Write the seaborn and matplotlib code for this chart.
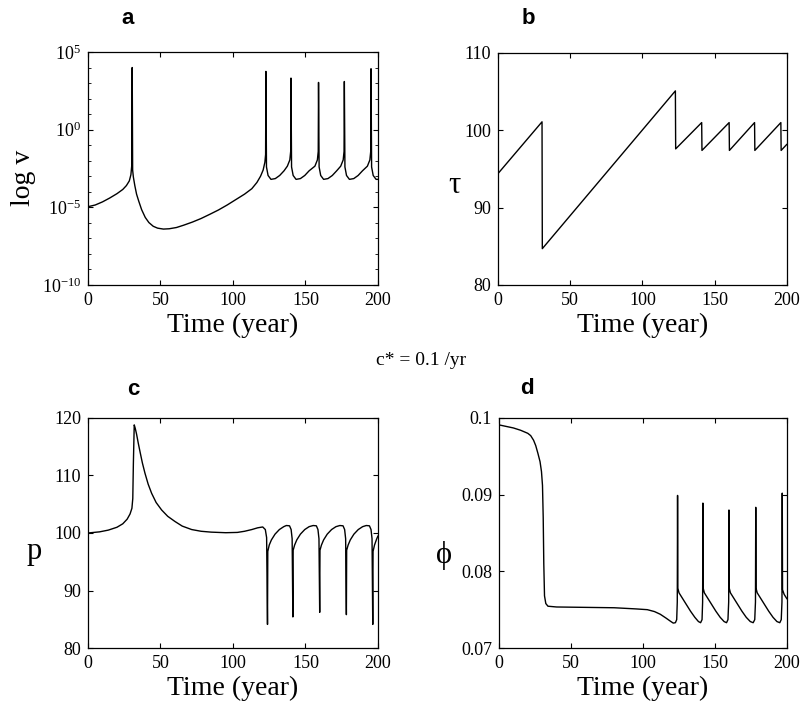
import numpy as np
import matplotlib
matplotlib.use("Agg")
import matplotlib.pyplot as plt
import seaborn as sns
from matplotlib.ticker import FixedLocator, NullFormatter

# panel a: log10 of slip rate v
t_a = [0, 5, 10, 15, 20, 24, 26.5, 28.5, 29.6, 30.2, 30.5, 30.8, 31.3, 32.3, 33.5, 35, 37,
       39.5, 42, 45, 48, 52, 56, 61, 66, 72, 78, 84, 90, 96, 102, 108, 113, 116.5, 119,
       120.8, 122.0, 122.5, 122.7,
       123.1, 124.2, 126.2, 129.2, 132.2, 135.2, 137.5, 139.2, 139.8, 140.0,
       140.4, 141.5, 143.5, 146.5, 149.5, 152.5, 156.5, 158.2, 158.8, 159.0,
       159.4, 160.5, 162.5, 165.5, 168.5, 171.5, 174.3, 176.0, 176.6, 176.8,
       177.2, 178.3, 180.3, 183.3, 186.3, 189.3, 192.7, 194.4, 195.0, 195.2,
       195.6, 196.7, 198.7, 200]
logv_a = [-4.96, -4.85, -4.65, -4.4, -4.12, -3.85, -3.6, -3.3, -2.9, -2.3, 4.0, -2.6, -3.05,
          -3.6, -4.15, -4.6, -5.15, -5.65, -5.98, -6.22, -6.34, -6.4, -6.38, -6.3, -6.15,
          -5.95, -5.72, -5.45, -5.17, -4.85, -4.5, -4.15, -3.8, -3.4, -3.0,
          -2.6, -2.1, -1.6, 3.75,
          -2.4, -2.95, -3.2, -3.15, -2.95, -2.65, -2.35, -1.95, -1.4, 3.32,
          -2.4, -2.95, -3.2, -3.15, -2.95, -2.65, -2.35, -1.95, -1.4, 3.04,
          -2.4, -2.95, -3.2, -3.15, -2.95, -2.65, -2.35, -1.95, -1.4, 3.1,
          -2.4, -2.95, -3.2, -3.15, -2.95, -2.65, -2.35, -1.95, -1.4, 3.92,
          -2.4, -2.95, -3.2, -3.2]

# panel b: tau
t_b = [0, 30.5, 30.7, 122.8, 123.0, 141.0, 141.2, 160.0, 160.2, 177.6, 177.8,
       195.8, 196.0, 200]
tau_b = [94.4, 101.1, 84.7, 105.1, 97.6, 101.0, 97.4, 101.0, 97.4, 101.0, 97.4,
         101.0, 97.4, 98.2]

# panel c: p
t_c = [0, 8, 14, 20, 24, 27, 29, 30.3, 30.9, 31.3, 31.9, 32.6, 33.5, 34.7, 36, 37.5,
       39.3, 41.5, 43.9, 47, 50.8, 55, 60, 65, 71.5, 78, 85, 95, 103, 108, 113, 117,
       120.5, 122.3, 123.2, 123.8,
       124.0, 125.0, 126.5, 129, 132, 135, 136.8, 139.0, 140.1, 140.8, 141.3,
       141.5, 142.5, 144, 146.5, 149.5, 152.5, 155.3, 157.5, 158.6, 159.3, 159.8,
       160.0, 161, 162.5, 165, 168, 171, 173.7, 175.9, 177.0, 177.7, 178.2,
       178.4, 179.4, 180.9, 183.4, 186.4, 189.4, 191.9, 194.1, 195.2, 195.9, 196.4,
       196.6, 197.6, 199, 200]
p_c = [100.0, 100.2, 100.5, 101.0, 101.6, 102.4, 103.3, 104.3, 106, 112, 118.8, 118.2,
       117.2, 115.6, 114.0, 112.2, 110.4, 108.5, 106.9, 105.3, 104.0, 102.9, 102.0,
       101.2, 100.6, 100.3, 100.15, 100.05, 100.1, 100.3, 100.6, 100.9,
       101.05, 100.6, 99.2, 84.1,
       96.8, 97.9, 98.8, 99.8, 100.6, 101.1, 101.3, 101.25, 100.6, 99.0, 85.4,
       97.0, 97.9, 98.8, 99.8, 100.6, 101.1, 101.3, 101.25, 100.6, 99.0, 86.2,
       97.0, 97.9, 98.8, 99.8, 100.6, 101.1, 101.3, 101.25, 100.6, 99.0, 85.8,
       97.0, 97.9, 98.8, 99.8, 100.6, 101.1, 101.3, 101.25, 100.6, 99.0, 84.1,
       96.8, 97.9, 98.9, 99.5]

# panel d: phi
t_d = [0, 5, 10, 15, 20, 22, 24, 25.5, 27, 28.5, 29.5, 30.2, 30.7, 31.1, 31.6, 32.5,
       34, 40, 60, 80, 95, 103, 108, 112, 116, 119, 121, 122.5, 123.4, 123.8, 124.0,
       124.2, 125, 127, 130, 133, 136, 138.5, 140, 141.0, 141.4, 141.6,
       141.8, 142.6, 144.6, 147.6, 150.6, 153.6, 156.3, 158.0, 159.0, 159.5, 159.7,
       159.9, 160.7, 162.7, 165.7, 168.7, 171.7, 174.5, 176.5, 177.6, 178.1, 178.3,
       178.5, 179.3, 181.3, 184.3, 187.3, 190.3, 193.0, 195.0, 196.0, 196.5, 196.7,
       196.9, 198, 200]
phi_d = [0.0991, 0.0989, 0.0987, 0.0984, 0.0980, 0.0977, 0.0971, 0.0964, 0.0954,
         0.0943, 0.0930, 0.0912, 0.0870, 0.0810, 0.0768, 0.0758, 0.07545, 0.07535,
         0.0753, 0.07525, 0.0751, 0.0750, 0.07475, 0.0744, 0.0739, 0.0735, 0.07325,
         0.0733, 0.0737, 0.0760, 0.0899,
         0.0778, 0.0772, 0.0766, 0.0757, 0.0748, 0.0740, 0.07345, 0.0733, 0.0737, 0.0760, 0.0889,
         0.0778, 0.0772, 0.0766, 0.0757, 0.0748, 0.0740, 0.07345, 0.0733, 0.0737, 0.0760, 0.0880,
         0.0778, 0.0772, 0.0766, 0.0757, 0.0748, 0.0740, 0.07345, 0.0733, 0.0737, 0.0760, 0.08835,
         0.0778, 0.0772, 0.0766, 0.0757, 0.0748, 0.0740, 0.07345, 0.0733, 0.0737, 0.0760, 0.0902,
         0.0776, 0.0770, 0.0764]

x_ticks = [0, 50, 100, 150, 200]

sns.set_style("ticks")
plt.rcParams["font.family"] = ["Liberation Serif", "DejaVu Serif"]
plt.rcParams["mathtext.fontset"] = "stix"
plt.rcParams["text.color"] = "black"
plt.rcParams["axes.labelcolor"] = "black"
plt.rcParams["xtick.color"] = "black"
plt.rcParams["ytick.color"] = "black"
plt.rcParams["xtick.direction"] = "in"
plt.rcParams["ytick.direction"] = "in"
plt.rcParams["xtick.top"] = True
plt.rcParams["ytick.right"] = True
plt.rcParams["xtick.major.size"] = 3.5
plt.rcParams["ytick.major.size"] = 3.5
plt.rcParams["ytick.minor.size"] = 2.5
plt.rcParams["axes.linewidth"] = 0.9
plt.rcParams["axes.edgecolor"] = "black"

fig = plt.figure(figsize=(8.02, 7.15), dpi=100)
ax_a = fig.add_axes([0.1097, 0.6014, 0.3616, 0.3259])
ax_b = fig.add_axes([0.6209, 0.6014, 0.3603, 0.3245])
ax_c = fig.add_axes([0.1097, 0.0937, 0.3616, 0.3217])
ax_d = fig.add_axes([0.6222, 0.0937, 0.3591, 0.3217])

line_kw = dict(color="black", linewidth=1.0, sort=False, estimator=None)
sns.lineplot(x=t_a, y=10 ** np.array(logv_a), ax=ax_a, **line_kw)
sns.lineplot(x=t_b, y=tau_b, ax=ax_b, **line_kw)
sns.lineplot(x=t_c, y=p_c, ax=ax_c, **line_kw)
sns.lineplot(x=t_d, y=phi_d, ax=ax_d, **line_kw)

ax_a.set_yscale("log")
ax_a.set_ylim(1e-10, 1e5)
ax_a.yaxis.set_major_locator(FixedLocator([1e-10, 1e-5, 1e0, 1e5]))
ax_a.yaxis.set_minor_locator(FixedLocator(10.0 ** np.arange(-10, 6)))
ax_a.yaxis.set_minor_formatter(NullFormatter())

ax_b.set_ylim(80, 110)
ax_b.set_yticks([80, 90, 100, 110])
ax_c.set_ylim(80, 120)
ax_c.set_yticks([80, 90, 100, 110, 120])
ax_d.set_ylim(0.07, 0.1)
ax_d.set_yticks([0.07, 0.08, 0.09, 0.1])
ax_d.set_yticklabels(["0.07", "0.08", "0.09", "0.1"])

for ax in [ax_a, ax_b, ax_c, ax_d]:
    ax.set_xlim(0, 200)
    ax.set_xticks(x_ticks)
    ax.tick_params(labelsize=13, pad=5, width=0.8)
    ax.set_xlabel("Time (year)", fontsize=20)
    ax.xaxis.set_label_coords(0.5, -0.12)

ax_a.set_ylabel("log v", fontsize=20)
ax_a.yaxis.set_label_coords(-0.18, 0.46)
ax_b.set_ylabel("τ", fontsize=22, rotation=0, ha="center", va="center")
ax_b.yaxis.set_label_coords(-0.15, 0.43)
ax_c.set_ylabel("p", fontsize=22, rotation=0, ha="center", va="center")
ax_c.yaxis.set_label_coords(-0.185, 0.42)
ax_d.set_ylabel("ϕ", fontsize=22, rotation=0, ha="center", va="center")
ax_d.yaxis.set_label_coords(-0.19, 0.40)

letter_kw = dict(fontsize=16, fontweight="bold", family=["Liberation Sans"], ha="center", va="center")
fig.text(128 / 802, 1 - 18 / 715, "a", **letter_kw)
fig.text(528 / 802, 1 - 18 / 715, "b", **letter_kw)
fig.text(133 / 802, 1 - 390 / 715, "c", **letter_kw)
fig.text(527 / 802, 1 - 388 / 715, "d", **letter_kw)
fig.text(421 / 802, 1 - 360 / 715, "c* = 0.1 /yr", fontsize=14, ha="center", va="center")

fig.savefig("out.png", dpi=100)
